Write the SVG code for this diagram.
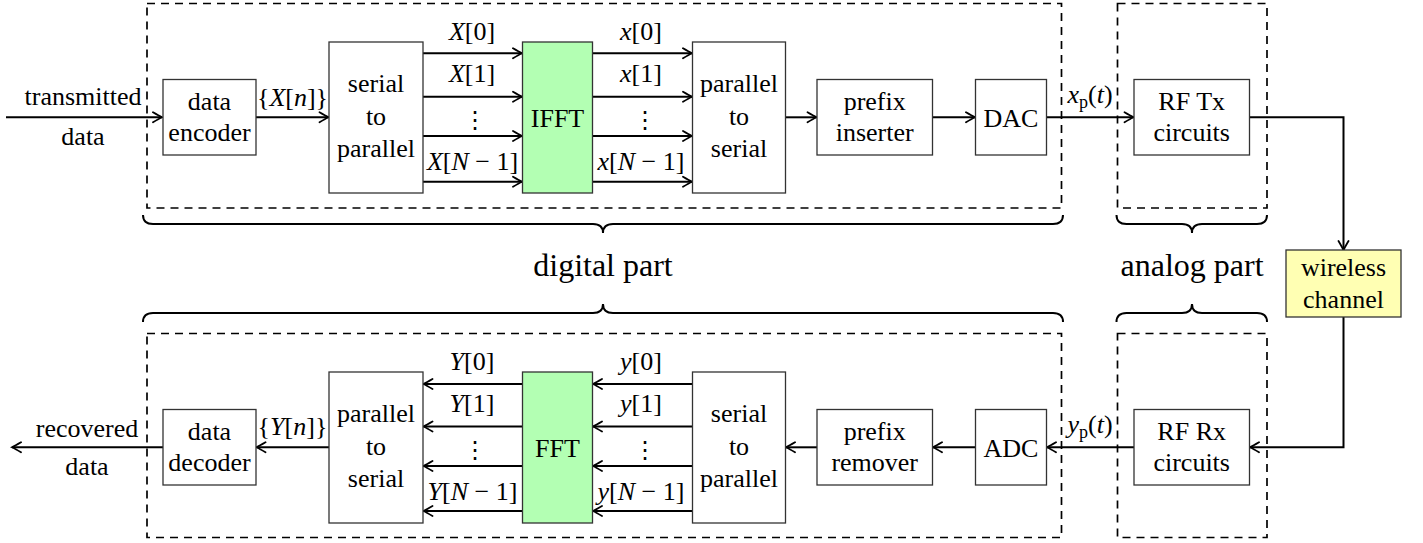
<svg xmlns="http://www.w3.org/2000/svg" width="1423" height="543" viewBox="0 0 1423 543">
<style>
.box{fill:#fff;stroke:#333;stroke-width:1.3}
.dash{fill:none;stroke:#000;stroke-width:1.7;stroke-dasharray:8,6}
.ln{fill:none;stroke:#000;stroke-width:2}
.br{fill:none;stroke:#000;stroke-width:2}
text{font-family:"Liberation Serif","Times New Roman",serif;font-size:26px;fill:#000;text-anchor:middle}
.big{font-size:32px}
.it{font-style:italic}
.dots{font-family:"DejaVu Sans",sans-serif;font-size:24px}
</style>
<defs>
<marker id="arr" markerUnits="userSpaceOnUse" markerWidth="14" markerHeight="14" viewBox="-12 -7 14 14" refX="0" refY="0" orient="auto">
<path d="M-9,-5 Q-3,-1.5 0,0 Q-3,1.5 -9,5" fill="none" stroke="#000" stroke-width="1.8" stroke-linecap="round"/>
</marker>
</defs>

<g id="regions">
<rect class="dash" x="147" y="3.5" width="914.5" height="204.5"/>
<rect class="dash" x="1117.5" y="3.5" width="149.5" height="204.5"/>
<rect class="dash" x="147" y="333.5" width="914.5" height="204"/>
<rect class="dash" x="1117.5" y="333.5" width="149.5" height="204"/>
<path class="br" d="M143,215 Q143,224 153,224 L593,224 Q603,224 603,233 Q603,224 613,224 L1053,224 Q1063,224 1063,215"/>
<path class="br" d="M1116.5,215 Q1116.5,224 1126.5,224 L1182,224 Q1192,224 1192,233 Q1192,224 1202,224 L1257,224 Q1267,224 1267,215"/>
<path class="br" d="M143,322 Q143,313 153,313 L593,313 Q603,313 603,304 Q603,313 613,313 L1053,313 Q1063,313 1063,322"/>
<path class="br" d="M1116.5,322 Q1116.5,313 1126.5,313 L1182,313 Q1192,313 1192,304 Q1192,313 1202,313 L1257,313 Q1267,313 1267,322"/>
<text class="big" x="603" y="276">digital part</text>
<text class="big" x="1192" y="276">analog part</text>
</g>

<g id="connectors">
<path class="ln" d="M6,117.3 H162" marker-end="url(#arr)"/>
<path class="ln" d="M256,117.3 H328.5" marker-end="url(#arr)"/>
<path class="ln" d="M423,53.3 H522" marker-end="url(#arr)"/>
<path class="ln" d="M423,96.7 H522" marker-end="url(#arr)"/>
<path class="ln" d="M423,136 H522" marker-end="url(#arr)"/>
<path class="ln" d="M423,181.7 H522" marker-end="url(#arr)"/>
<path class="ln" d="M593,53.3 H692" marker-end="url(#arr)"/>
<path class="ln" d="M593,96.7 H692" marker-end="url(#arr)"/>
<path class="ln" d="M593,136 H692" marker-end="url(#arr)"/>
<path class="ln" d="M593,181.7 H692" marker-end="url(#arr)"/>
<path class="ln" d="M785.5,117.3 H816.5" marker-end="url(#arr)"/>
<path class="ln" d="M932.5,117.3 H975" marker-end="url(#arr)"/>
<path class="ln" d="M1046.5,117.3 H1133.5" marker-end="url(#arr)"/>
<path class="ln" d="M1249.5,117.3 H1343.5 V250" marker-end="url(#arr)"/>
<path class="ln" d="M1343.5,317 V447.3 H1250" marker-end="url(#arr)"/>
<path class="ln" d="M1134,447.3 H1047" marker-end="url(#arr)"/>
<path class="ln" d="M975.5,447.3 H933" marker-end="url(#arr)"/>
<path class="ln" d="M817,447.3 H786" marker-end="url(#arr)"/>
<path class="ln" d="M692.5,384 H593" marker-end="url(#arr)"/>
<path class="ln" d="M692.5,426.5 H593" marker-end="url(#arr)"/>
<path class="ln" d="M692.5,466 H593" marker-end="url(#arr)"/>
<path class="ln" d="M692.5,511 H593" marker-end="url(#arr)"/>
<path class="ln" d="M522.5,384 H423.5" marker-end="url(#arr)"/>
<path class="ln" d="M522.5,426.5 H423.5" marker-end="url(#arr)"/>
<path class="ln" d="M522.5,466 H423.5" marker-end="url(#arr)"/>
<path class="ln" d="M522.5,511 H423.5" marker-end="url(#arr)"/>
<path class="ln" d="M329,447.3 H256.5" marker-end="url(#arr)"/>
<path class="ln" d="M163,447.3 H12" marker-end="url(#arr)"/>

<text x="83" y="105">transmitted</text>
<text x="83" y="145">data</text>
<text x="87" y="437">recovered</text>
<text x="87" y="475">data</text>
<text x="292.5" y="106">{<tspan class="it">X</tspan>[<tspan class="it">n</tspan>]}</text>
<text x="292.5" y="435">{<tspan class="it">Y</tspan>[<tspan class="it">n</tspan>]}</text>

<text x="472" y="40"><tspan class="it">X</tspan>[0]</text>
<text x="472" y="82"><tspan class="it">X</tspan>[1]</text>
<text class="dots" x="475" y="128">⋮</text>
<text x="472.5" y="170"><tspan class="it">X</tspan>[<tspan class="it">N</tspan> − 1]</text>
<text x="641" y="40"><tspan class="it">x</tspan>[0]</text>
<text x="641" y="82"><tspan class="it">x</tspan>[1]</text>
<text class="dots" x="645" y="128">⋮</text>
<text x="641" y="170"><tspan class="it">x</tspan>[<tspan class="it">N</tspan> − 1]</text>

<text x="472" y="370"><tspan class="it">Y</tspan>[0]</text>
<text x="472" y="412"><tspan class="it">Y</tspan>[1]</text>
<text class="dots" x="475" y="458">⋮</text>
<text x="472.5" y="500"><tspan class="it">Y</tspan>[<tspan class="it">N</tspan> − 1]</text>
<text x="641" y="370"><tspan class="it">y</tspan>[0]</text>
<text x="641" y="412"><tspan class="it">y</tspan>[1]</text>
<text class="dots" x="645" y="458">⋮</text>
<text x="641" y="500"><tspan class="it">y</tspan>[<tspan class="it">N</tspan> − 1]</text>

<text x="1090" y="103"><tspan class="it">x</tspan><tspan font-size="18" dy="5">p</tspan><tspan dy="-5">(</tspan><tspan class="it">t</tspan>)</text>
<text x="1090" y="433"><tspan class="it">y</tspan><tspan font-size="18" dy="5">p</tspan><tspan dy="-5">(</tspan><tspan class="it">t</tspan>)</text>
</g>

<g id="data-encoder"><rect class="box" x="163" y="79.5" width="93" height="75.5"/><text x="209.5" y="109.5">data</text><text x="209.5" y="141">encoder</text></g>
<g id="s2p-tx"><rect class="box" x="329" y="42" width="94" height="151"/><text x="376" y="92">serial</text><text x="376" y="124.5">to</text><text x="376" y="157">parallel</text></g>
<g id="ifft"><rect class="box" x="522.5" y="42" width="70" height="151" style="fill:#b3ffb3"/><text x="557.5" y="126.5">IFFT</text></g>
<g id="p2s-tx"><rect class="box" x="692.5" y="42" width="93" height="151"/><text x="739" y="92">parallel</text><text x="739" y="124.5">to</text><text x="739" y="157">serial</text></g>
<g id="prefix-inserter"><rect class="box" x="817" y="79.5" width="115.5" height="75.5"/><text x="874.7" y="109.5">prefix</text><text x="874.7" y="141">inserter</text></g>
<g id="dac"><rect class="box" x="975.5" y="79.5" width="71" height="75.5"/><text x="1011" y="126.5">DAC</text></g>
<g id="rf-tx"><rect class="box" x="1134" y="79.5" width="115.5" height="75.5"/><text x="1191.7" y="109.5">RF Tx</text><text x="1191.7" y="141">circuits</text></g>
<g id="wireless-channel"><rect class="box" x="1286" y="250" width="115" height="67" style="fill:#ffffb3"/><text x="1343.5" y="276">wireless</text><text x="1343.5" y="308">channel</text></g>

<g id="data-decoder"><rect class="box" x="163" y="409.5" width="93" height="75.5"/><text x="209.5" y="439.5">data</text><text x="209.5" y="471">decoder</text></g>
<g id="p2s-rx"><rect class="box" x="329" y="372" width="94" height="151"/><text x="376" y="422">parallel</text><text x="376" y="454.5">to</text><text x="376" y="487">serial</text></g>
<g id="fft"><rect class="box" x="522.5" y="372" width="70" height="151" style="fill:#b3ffb3"/><text x="557.5" y="456.5">FFT</text></g>
<g id="s2p-rx"><rect class="box" x="692.5" y="372" width="93" height="151"/><text x="739" y="422">serial</text><text x="739" y="454.5">to</text><text x="739" y="487">parallel</text></g>
<g id="prefix-remover"><rect class="box" x="817" y="409.5" width="115.5" height="75.5"/><text x="874.7" y="439.5">prefix</text><text x="874.7" y="471">remover</text></g>
<g id="adc"><rect class="box" x="975.5" y="409.5" width="71" height="75.5"/><text x="1011" y="456.5">ADC</text></g>
<g id="rf-rx"><rect class="box" x="1134" y="409.5" width="115.5" height="75.5"/><text x="1191.7" y="439.5">RF Rx</text><text x="1191.7" y="471">circuits</text></g>
</svg>
